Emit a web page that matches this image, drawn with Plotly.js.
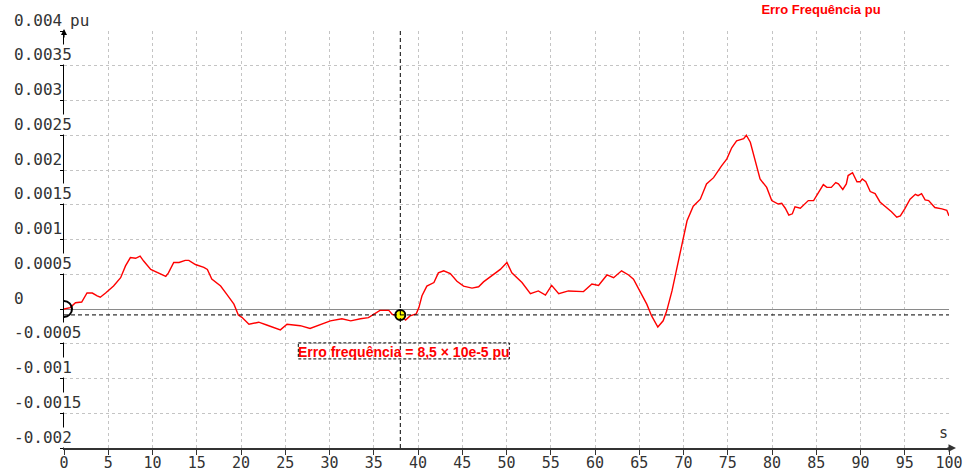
<!DOCTYPE html>
<html>
<head>
<meta charset="utf-8">
<script src="https://cdn.plot.ly/plotly-3.0.1.min.js"></script>
<style>
  html, body { margin: 0; padding: 0; background: #ffffff; }
  #chart { width: 966px; height: 472px; }
</style>
</head>
<body>
<div id="chart"></div>
<script>
// ---- data ----
const timeS = [0, 0.7, 1.3, 2.0, 2.6, 3.2, 3.75, 4.1, 4.7, 5.6, 6.4, 6.95, 7.5, 8.1, 8.6, 9.0, 9.8, 10.9, 11.5, 11.8,
  12.4, 13.0, 13.7, 14.1, 14.85, 15.8, 16.2, 16.7, 17.7, 18.4, 19.2, 19.7, 20.1, 20.9, 22.0, 22.9, 24.45, 25.2, 26.7, 27.8,
  29.0, 30.1, 31.4, 32.4, 33.5, 34.4, 35.7, 36.7, 37.1, 38.0, 38.6, 39.1, 39.8, 40.1, 40.45, 41.0, 41.8, 42.3, 42.9, 43.65,
  44.4, 45.15, 46.1, 46.85, 47.4, 48.35, 49.3, 50.05, 50.6, 51.75, 52.7, 53.6, 54.4, 55.1, 55.9, 57.0, 57.95, 58.7, 59.65, 60.4,
  61.35, 62.1, 63.0, 63.8, 64.35, 65.1, 65.85, 66.4, 67.1, 67.7, 68.1, 68.7, 69.25, 69.8, 70.4, 71.1, 71.9, 72.6, 73.4, 74.3,
  74.9, 75.45, 76.0, 76.8, 77.1, 77.55, 78.1, 78.65, 79.4, 79.97, 80.7, 81.1, 81.5, 81.9, 82.3, 82.6, 83.2, 84.1, 84.7, 85.4,
  85.8, 86.2, 86.7, 87.2, 87.5, 88.0, 88.4, 88.6, 89.1, 89.6, 89.95, 90.2, 90.6, 91.1, 91.65, 92.2, 92.95, 93.5, 94.1, 94.5,
  95.0, 95.6, 96.2, 96.5, 96.9, 97.3, 97.7, 98.4, 99.2, 99.75, 100];

const erroFreq = [0, 0.00002, 0.00009, 0.0001, 0.00023, 0.00023, 0.00019, 0.00017, 0.00023, 0.00033, 0.00045, 0.00062, 0.00074, 0.00073, 0.00076, 0.00069, 0.00057, 0.00051, 0.00047, 0.00052,
  0.00067, 0.00067, 0.0007, 0.0007, 0.00064, 0.0006, 0.00057, 0.00043, 0.00033, 0.00021, 0.00007, -0.000086, -0.00012, -0.00022, -0.00019, -0.00023, -0.0003, -0.00022, -0.00024, -0.00028,
  -0.00022, -0.00017, -0.00014, -0.00017, -0.00014, -0.000125, -0.00002, -0.00002, -0.00008, -0.000085, -0.00016, -0.0001, -0.00007, 0.00002, 0.00019, 0.00033, 0.00038, 0.00052, 0.00055, 0.00051,
  0.0004, 0.00033, 0.0003, 0.00032, 0.00039, 0.00048, 0.00057, 0.00067, 0.00052, 0.00038, 0.00022, 0.00026, 0.0002, 0.00034, 0.00022, 0.00026, 0.00026, 0.00025, 0.00036, 0.00034,
  0.00049, 0.00045, 0.00055, 0.00049, 0.00043, 0.00024, 0.00007, -0.0001, -0.00026, -0.00017, -0.00003, 0.00026, 0.0006, 0.00093, 0.00127, 0.00148, 0.00158, 0.0018, 0.00189, 0.00206,
  0.00216, 0.00232, 0.00242, 0.00245, 0.0025, 0.0024, 0.00213, 0.00187, 0.00175, 0.00156, 0.00151, 0.00152, 0.00145, 0.00135, 0.00137, 0.00147, 0.00145, 0.00156, 0.00156, 0.0017,
  0.00179, 0.00175, 0.00175, 0.00182, 0.0018, 0.00172, 0.0018, 0.00192, 0.00196, 0.00183, 0.00183, 0.00187, 0.00183, 0.00169, 0.00166, 0.00154, 0.00146, 0.0014, 0.00132, 0.00134,
  0.00144, 0.00158, 0.00165, 0.00163, 0.00166, 0.00157, 0.00156, 0.00146, 0.00144, 0.00142, 0.00134];

const cursorT = [38];
const cursorV = [-0.000085];
const originT = [0];
const originV = [0];

const yTickVals = [0.004, 0.0035, 0.003, 0.0025, 0.002, 0.0015, 0.001, 0.0005, 0, -0.0005, -0.001, -0.0015, -0.002];
const yTickText = ['0.004', '0.0035', '0.003', '0.0025', '0.002', '0.0015', '0.001', '0.0005', '0', '-0.0005', '-0.001', '-0.0015', '-0.002'];
const xTickVals = [0, 5, 10, 15, 20, 25, 30, 35, 40, 45, 50, 55, 60, 65, 70, 75, 80, 85, 90, 95, 100];
const xTickText = ['0', '5', '10', '15', '20', '25', '30', '35', '40', '45', '50', '55', '60', '65', '70', '75', '80', '85', '90', '95', '100'];

const titleText = 'Erro Frequência pu';
const cursorLabel = 'Erro frequência = 8,5 × 10e-5 pu';
const yUnit = 'pu';
const xUnit = 's';

// ---- styling ----
const monoFont = 'DejaVu Sans Mono';
const gridDash = '3px,3px';
const crossDash = '4px,3px';

const traces = [
  {
    x: timeS, y: erroFreq, type: 'scatter', mode: 'lines',
    line: { color: '#ff0000', width: 1.4 },
    hoverinfo: 'skip'
  },
  {
    x: originT, y: originV, type: 'scatter', mode: 'markers',
    marker: { symbol: 'circle-open', size: 16, color: '#000000', line: { width: 2, color: '#000000' } },
    cliponaxis: true, hoverinfo: 'skip'
  },
  {
    x: cursorT, y: cursorV, type: 'scatter', mode: 'markers',
    marker: { symbol: 'circle', size: 10, color: '#ffff00', line: { width: 2, color: '#000000' } },
    cliponaxis: false, hoverinfo: 'skip'
  }
];

const annotations = yTickVals.map((v, i) => ({
  xref: 'paper', x: 0, xanchor: 'left', xshift: -51,
  yref: 'y', y: v, yanchor: 'middle', yshift: 11,
  text: yTickText[i], showarrow: false, bgcolor: '#ffffff', borderpad: 0,
  font: { family: monoFont, size: 16, color: '#333333' }
}));

annotations.push(
  { xref: 'paper', x: 0, xanchor: 'center', xshift: 15, yref: 'paper', y: 1, yanchor: 'middle', yshift: 11,
    text: yUnit, showarrow: false, font: { family: monoFont, size: 16, color: '#333333' } },
  { xref: 'paper', x: 1, xanchor: 'center', xshift: -6, yref: 'paper', y: 0, yanchor: 'middle', yshift: 15,
    text: xUnit, showarrow: false, font: { family: monoFont, size: 15, color: '#333333' } },
  // axis arrows
  { xref: 'paper', x: 1, yref: 'paper', y: 0, xshift: 7, text: '', showarrow: true,
    ax: -10, ay: 0, arrowhead: 2, arrowsize: 1, arrowwidth: 1.5, arrowcolor: '#333333' },
  { xref: 'paper', x: 0, yref: 'paper', y: 1, yshift: 2, text: '', showarrow: true,
    ax: 0, ay: 10, arrowhead: 2, arrowsize: 1, arrowwidth: 1.2, arrowcolor: '#000000' },
  // cursor label
  { xref: 'x', x: cursorT[0], xanchor: 'center', xshift: 3.5, yref: 'y', y: cursorV[0], yanchor: 'middle', yshift: -37,
    text: '<b>' + cursorLabel + '</b>', showarrow: false,
    font: { family: 'Liberation Sans, Arial', size: 14, color: '#ff0000' } }
);

const shapes = [
  { type: 'line', xref: 'x', x0: cursorT[0], x1: cursorT[0], yref: 'paper', y0: 0, y1: 1,
    line: { color: '#000000', width: 1, dash: crossDash } },
  { type: 'line', xref: 'paper', x0: 0, x1: 1, yref: 'y', y0: cursorV[0], y1: cursorV[0],
    line: { color: '#000000', width: 1, dash: crossDash } },
  { type: 'rect', xref: 'x', xsizemode: 'pixel', xanchor: cursorT[0], x0: -102, x1: 109,
    yref: 'y', ysizemode: 'pixel', yanchor: cursorV[0], y0: -28, y1: -44,
    line: { color: '#000000', width: 1, dash: '3px,2px' }, fillcolor: 'rgba(0,0,0,0)' }
];

const layout = {
  width: 966, height: 472,
  margin: { l: 64, r: 17, t: 31, b: 24, pad: 0 },
  paper_bgcolor: '#ffffff', plot_bgcolor: '#ffffff',
  showlegend: false, hovermode: false,
  title: {
    text: '<b>' + titleText + '</b>',
    xref: 'container', x: 821 / 966, xanchor: 'center',
    yref: 'container', y: 1 - 9 / 472, yanchor: 'middle',
    font: { family: 'Liberation Sans, Arial', size: 13, color: '#ff0000' }
  },
  xaxis: {
    range: [0, 100], tickmode: 'array', tickvals: xTickVals, ticktext: xTickText,
    showgrid: true, gridcolor: '#c4c4c4', gridwidth: 1, griddash: gridDash,
    zeroline: false, showline: true, linecolor: '#333333', linewidth: 1.5,
    ticks: 'outside', ticklen: 5, tickwidth: 1, tickcolor: '#333333',
    tickfont: { family: monoFont, size: 15, color: '#333333' },
    ticklabelstandoff: -5,
    fixedrange: true
  },
  yaxis: {
    range: [-0.002, 0.004], tickmode: 'array', tickvals: yTickVals, ticktext: yTickText,
    showticklabels: false,
    showgrid: true, gridcolor: '#c4c4c4', gridwidth: 1, griddash: gridDash,
    zeroline: true, zerolinecolor: '#8a8a8a', zerolinewidth: 1,
    showline: true, linecolor: '#000000', linewidth: 1.2,
    ticks: 'outside', ticklen: 3, tickwidth: 1, tickcolor: '#000000',
    fixedrange: true
  },
  annotations: annotations,
  shapes: shapes
};

Plotly.newPlot('chart', traces, layout, { displayModeBar: false, staticPlot: true });
</script>
</body>
</html>
